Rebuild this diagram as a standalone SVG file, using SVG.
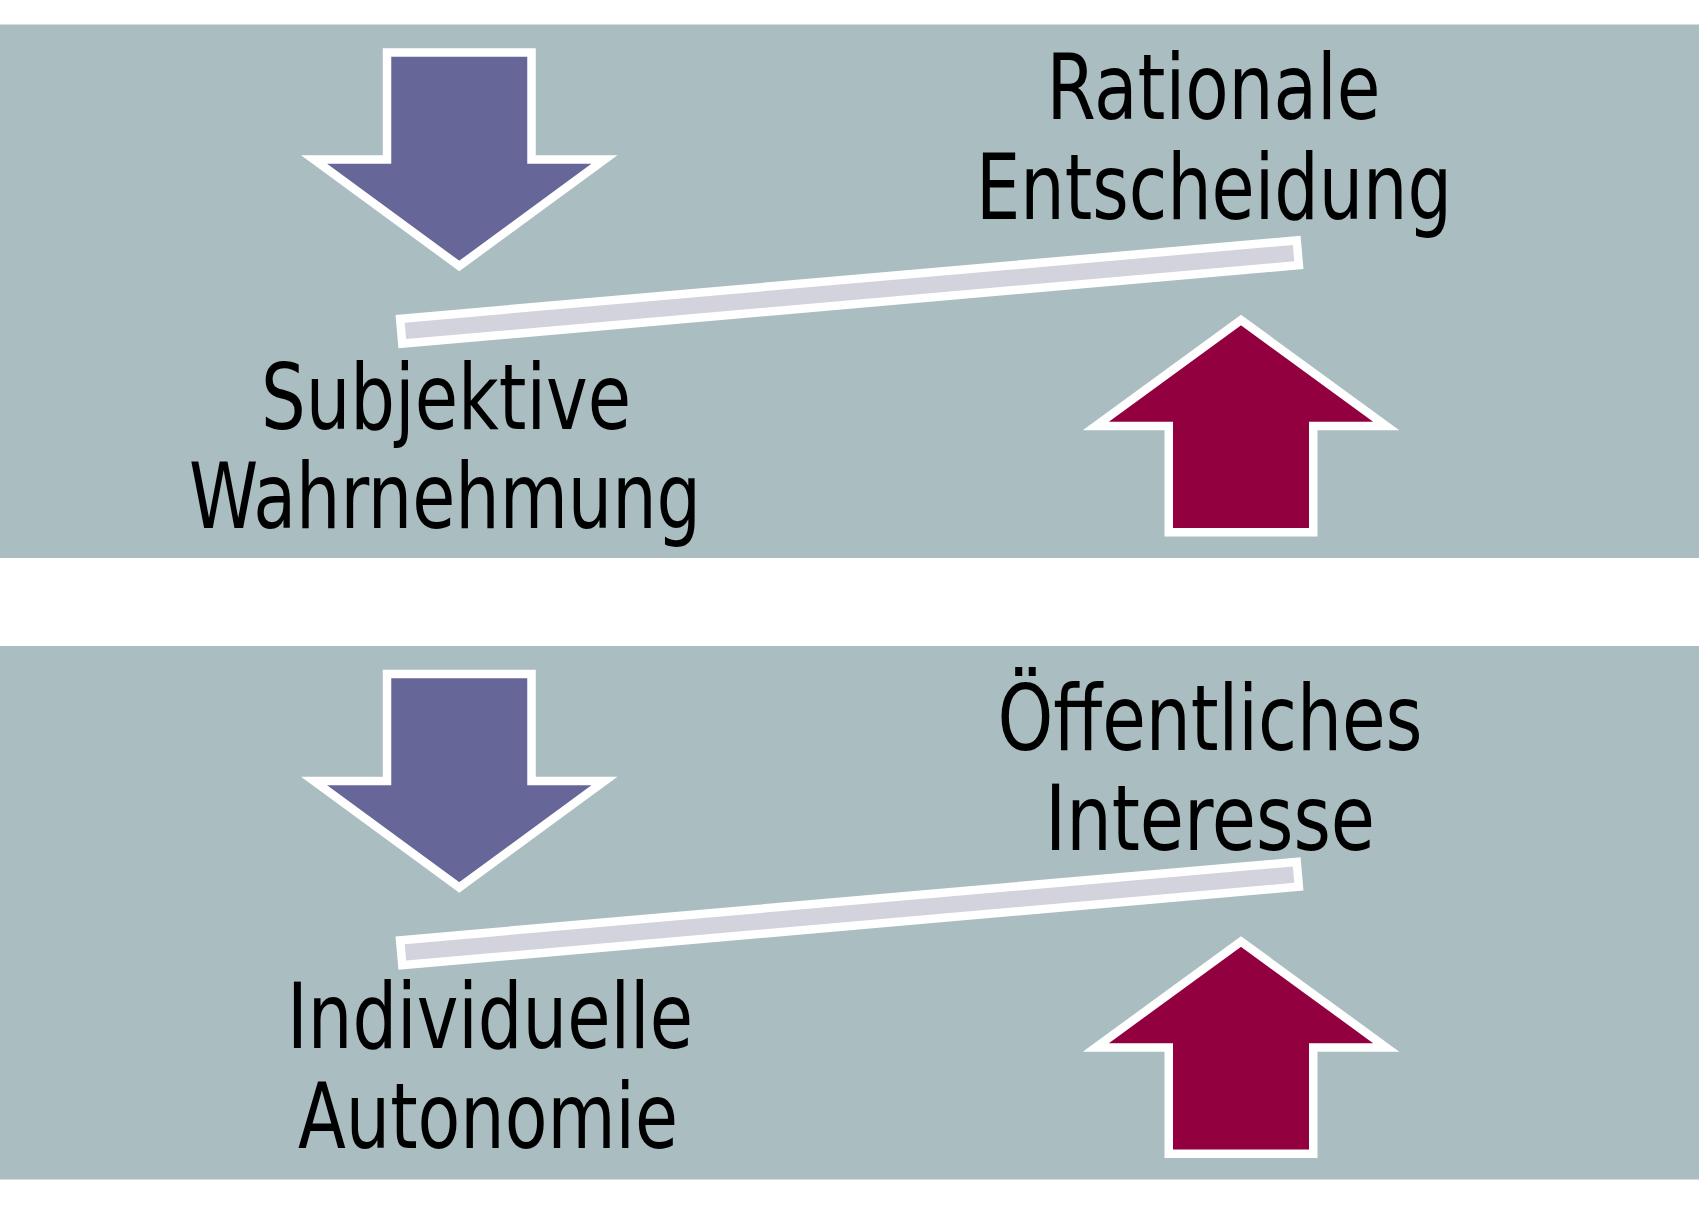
<svg xmlns="http://www.w3.org/2000/svg" width="1699" height="1222" viewBox="0 0 1699 1222">
  <style>
    .band { fill: #aabdc1; }
    .down { fill: #666698; stroke: #ffffff; stroke-width: 8.5; stroke-linejoin: miter; }
    .up { fill: #920040; stroke: #ffffff; stroke-width: 8.5; stroke-linejoin: miter; }
    .bar { fill: #d3d3dd; stroke: #ffffff; stroke-width: 8.5; }
    .lbl { font-family: "Liberation Sans Narrow", "DejaVu Sans Condensed", "Liberation Sans", sans-serif; font-size: 90px; fill: #000000; text-anchor: middle; }
  </style>
  <rect width="1699" height="1222" fill="#ffffff"/>

  <g id="panel-top">
    <rect class="band" x="0" y="24.5" width="1699" height="533.5"/>
    <g id="arrow-down-top">
      <polygon class="down" points="387,52.5 531.5,52.5 531.5,159.5 604.5,159.5 459.25,266 314,159.5 387,159.5"/>
    </g>
    <g id="arrow-up-top">
      <polygon class="up" points="1168.75,532.3 1313.25,532.3 1313.25,426 1386.25,426 1241,320 1095.75,426 1168.75,426"/>
    </g>
    <g id="label-rationale">
      <text class="lbl" x="1213.5" y="119" textLength="334" lengthAdjust="spacingAndGlyphs">Rationale</text>
      <text class="lbl" x="1214" y="218.5" textLength="476" lengthAdjust="spacingAndGlyphs">Entscheidung</text>
    </g>
    <g id="label-subjektive">
      <text class="lbl" x="446" y="428.5" textLength="370" lengthAdjust="spacingAndGlyphs">Subjektive</text>
      <text class="lbl" x="445" y="528" textLength="512" lengthAdjust="spacingAndGlyphs">Wahrnehmung</text>
    </g>
  </g>

  <g id="panel-bottom">
    <rect class="band" x="0" y="646" width="1699" height="533.5"/>
    <g id="arrow-down-bottom">
      <polygon class="down" points="387,674 531.5,674 531.5,781 604.5,781 459.25,887.5 314,781 387,781"/>
    </g>
    <g id="arrow-up-bottom">
      <polygon class="up" points="1168.75,1153.8 1313.25,1153.8 1313.25,1047.5 1386.25,1047.5 1241,941.5 1095.75,1047.5 1168.75,1047.5"/>
    </g>
    <g id="label-oeffentlich">
      <text class="lbl" x="1210" y="750" textLength="425" lengthAdjust="spacingAndGlyphs">Öffentliches</text>
      <text class="lbl" x="1210" y="849.5" textLength="330" lengthAdjust="spacingAndGlyphs">Interesse</text>
    </g>
    <g id="label-individuell">
      <text class="lbl" x="490" y="1048.3" textLength="406" lengthAdjust="spacingAndGlyphs">Individuelle</text>
      <text class="lbl" x="488" y="1148" textLength="380" lengthAdjust="spacingAndGlyphs">Autonomie</text>
    </g>
  </g>

  <g id="connectors">
    <rect class="bar" x="-450" y="-12.5" width="900" height="25" transform="translate(849.5,292) rotate(-5)"/>
    <rect class="bar" x="-450" y="-12.5" width="900" height="25" transform="translate(849.5,913.5) rotate(-5)"/>
  </g>
</svg>
